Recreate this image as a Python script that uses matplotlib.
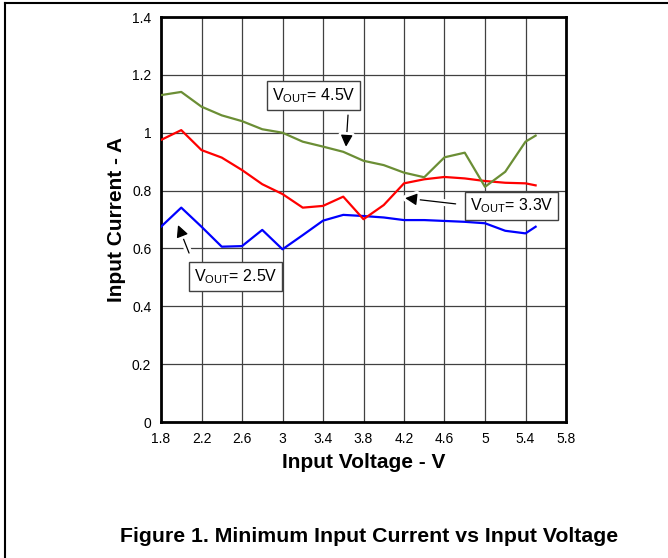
import matplotlib
matplotlib.use('Agg')
import matplotlib.pyplot as plt
import matplotlib.patheffects as pe
from matplotlib.lines import Line2D

plt.rcParams['font.family'] = ['Liberation Sans', 'DejaVu Sans']
plt.rcParams['mathtext.default'] = 'regular'

# dados
vin = [1.8, 2.0, 2.2, 2.4, 2.6, 2.8, 3.0, 3.2, 3.4, 3.6, 3.8, 4.0, 4.2, 4.4, 4.6, 4.8, 5.0, 5.2, 5.4, 5.5]
i_25 = [0.675, 0.741, 0.675, 0.606, 0.608, 0.664, 0.597, 0.646, 0.696, 0.716, 0.712, 0.707,
        0.698, 0.698, 0.695, 0.692, 0.687, 0.661, 0.652, 0.675]
i_33 = [0.975, 1.009, 0.940, 0.914, 0.871, 0.822, 0.788, 0.741, 0.747, 0.779, 0.701, 0.750,
        0.825, 0.839, 0.847, 0.842, 0.833, 0.827, 0.825, 0.818]
i_45 = [1.130, 1.141, 1.090, 1.060, 1.040, 1.012, 1.000, 0.969, 0.952, 0.934, 0.903, 0.888,
        0.862, 0.846, 0.915, 0.931, 0.813, 0.865, 0.969, 0.990]

xticks = [1.8, 2.2, 2.6, 3.0, 3.4, 3.8, 4.2, 4.6, 5.0, 5.4, 5.8]
xtick_labels = ['1.8', '2.2', '2.6', '3', '3.4', '3.8', '4.2', '4.6', '5', '5.4', '5.8']
yticks = [0, 0.2, 0.4, 0.6, 0.8, 1.0, 1.2, 1.4]
ytick_labels = ['0', '0.2', '0.4', '0.6', '0.8', '1', '1.2', '1.4']

fig = plt.figure(figsize=(6.68, 5.58), dpi=100)
ax = fig.add_axes([161 / 668, 1 - 422 / 558, 405 / 668, 405 / 558])

ax.plot(vin, i_25, color='#0000ff', lw=1.6, zorder=3)
ax.plot(vin, i_33, color='#ff0000', lw=1.6, zorder=3)
ax.plot(vin, i_45, color='#6b8e35', lw=1.6, zorder=3)

ax.set_xlim(1.8, 5.8)
ax.set_ylim(0, 1.4)
ax.set_xticks(xticks)
ax.set_xticklabels(xtick_labels)
ax.set_yticks(yticks)
ax.set_yticklabels(ytick_labels)
ax.tick_params(length=0, labelsize=10)
ax.tick_params(axis='x', pad=7)
ax.tick_params(axis='y', pad=7)
ax.grid(True, color='#404040', lw=0.9)
ax.set_axisbelow(True)
for s in ax.spines.values():
    s.set_linewidth(2)

ax.set_xlabel('Input Voltage - V', fontsize=15, fontweight='bold', labelpad=5)
ax.set_ylabel('Input Current - A', fontsize=15, fontweight='bold', labelpad=4)

# anotações
box = dict(boxstyle='square,pad=0.3', fc='white', ec='#404040', lw=1)
arrow = dict(arrowstyle='-|>', color='black', lw=0.9, mutation_scale=18,
             shrinkA=0, shrinkB=0,
             path_effects=[pe.withStroke(linewidth=5, foreground='white')])

ax.text(3.31, 1.129, 'V$_{OUT}$= 4.5V', fontsize=11.5, ha='center', va='center', bbox=box, zorder=5)
ax.annotate('', xy=(3.627, 0.951), xytext=(3.647, 1.061), arrowprops=arrow, zorder=4)

ax.text(5.26, 0.747, 'V$_{OUT}$= 3.3V', fontsize=11.5, ha='center', va='center', bbox=box, zorder=5)
ax.annotate('', xy=(4.21, 0.774), xytext=(4.71, 0.754), arrowprops=arrow, zorder=4)

ax.text(2.536, 0.503, 'V$_{OUT}$= 2.5V', fontsize=11.5, ha='center', va='center', bbox=box, zorder=5)
ax.annotate('', xy=(1.968, 0.681), xytext=(2.077, 0.584), arrowprops=arrow, zorder=4)

# moldura da página
fig.add_artist(Line2D([5 / 668, 1], [1 - 3 / 558, 1 - 3 / 558], color='black', lw=1.5))
fig.add_artist(Line2D([5 / 668, 5 / 668], [0, 1 - 3 / 558], color='black', lw=1.5))

fig.text(369 / 668, 1 - 537 / 558, 'Figure 1. Minimum Input Current vs Input Voltage',
         fontsize=15.3, fontweight='bold', ha='center', va='center')

fig.savefig('out.png', dpi=100)
